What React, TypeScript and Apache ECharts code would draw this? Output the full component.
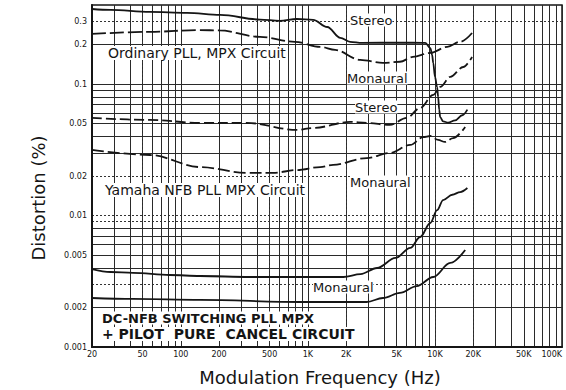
import React, { useEffect, useRef } from "react";
import * as echarts from "echarts";

// Tick labels
const xTickValues = [20, 50, 100, 200, 500, 1000, 2000, 5000, 10000, 20000, 50000, 100000];
const xTickLabels = ["20", "50", "100", "200", "500", "1K", "2K", "5K", "10K", "20K", "50K", "100K"];
const yTickValues = [0.001, 0.002, 0.005, 0.01, 0.02, 0.05, 0.1, 0.2, 0.3];
const yTickLabels = ["0.001", "0.002", "0.005", "0.01", "0.02", "0.05", "0.1", "0.2", "0.3"];

// Log-paper grid values
const xSolidGrid = [30, 40, 60, 70, 80, 90, 100, 200, 300, 400, 600, 700, 800, 900, 1000, 3000, 4000, 5000, 6000, 7000, 8000, 9000, 30000, 40000, 50000, 60000, 70000, 80000, 90000];
const xDottedGrid = [50, 500, 2000, 10000, 20000];
const ySolidGrid = [0.002, 0.004, 0.005, 0.006, 0.007, 0.008, 0.03, 0.04, 0.05, 0.06, 0.07, 0.08, 0.09, 0.1, 0.2];
const yDottedGrid = [0.003, 0.009, 0.01, 0.02, 0.3];

// Ordinary PLL, MPX circuit
const ordStereoFreq = [20, 28, 57, 112, 204, 420, 600, 820, 1100, 1420, 1800, 2150, 2670, 5300, 8400, 9200, 9500, 9700, 10000, 10400, 10600, 10800, 11000, 11600, 12700, 14400, 16400, 18000];
const ordStereoDist = [0.373, 0.367, 0.354, 0.348, 0.336, 0.31, 0.303, 0.313, 0.308, 0.272, 0.225, 0.21, 0.206, 0.207, 0.206, 0.188, 0.167, 0.145, 0.114, 0.095, 0.08, 0.064, 0.056, 0.052, 0.051, 0.053, 0.058, 0.064];
const ordMonoFreq = [20, 57, 142, 200, 420, 790, 1250, 1640, 2580, 3900, 5300, 6700, 9200, 12500, 15800, 19600];
const ordMonoDist = [0.241, 0.25, 0.258, 0.256, 0.229, 0.21, 0.192, 0.182, 0.153, 0.145, 0.148, 0.161, 0.173, 0.192, 0.21, 0.245];

// Yamaha NFB PLL MPX circuit
const yamStereoFreq = [20, 57, 142, 330, 820, 1100, 2150, 2900, 4400, 6000, 7650, 9700, 11000, 13200, 16700, 19600];
const yamStereoDist = [0.0553, 0.0534, 0.0507, 0.0507, 0.0448, 0.0464, 0.0516, 0.0507, 0.0489, 0.0553, 0.0659, 0.0828, 0.0952, 0.1135, 0.135, 0.161];
const yamMonoFreq = [20, 57, 142, 330, 530, 820, 1250, 1580, 2900, 4400, 6400, 8100, 9200, 10600, 12000, 13900, 17300];
const yamMonoDist = [0.0316, 0.0289, 0.0234, 0.0211, 0.0211, 0.0222, 0.0234, 0.0243, 0.0274, 0.0299, 0.0345, 0.0396, 0.0403, 0.0376, 0.0363, 0.0389, 0.0472];

// DC-NFB switching PLL MPX + pilot pure cancel circuit
const dcStereoFreq = [20, 28, 42, 82, 142, 350, 1900, 2600, 3500, 4900, 6400, 7650, 9200, 10400, 11600, 13700, 15800, 18000];
const dcStereoDist = [0.00392, 0.00372, 0.00366, 0.00353, 0.00347, 0.00341, 0.00341, 0.00359, 0.00399, 0.00476, 0.00567, 0.00687, 0.00878, 0.011, 0.0131, 0.0144, 0.0151, 0.0162];
const dcMonoFreq = [20, 42, 142, 870, 2900, 3900, 5300, 7200, 9700, 13200, 17300];
const dcMonoDist = [0.00236, 0.00232, 0.00228, 0.0022, 0.0022, 0.00236, 0.00258, 0.00291, 0.00341, 0.00436, 0.00547];

const X_MIN = 20;
const X_MAX = 100000;
const Y_MIN = 0.001;
const Y_MAX = 0.4;

const L = Math.log10;
const INK = "#151515";
const FONT = "DejaVu Sans";

function pairs(f: number[], d: number[]) {
  return f.map((v, i) => [L(v), L(d[i])]);
}

function lookup(values: number[], labels: string[]) {
  return (v: number) => {
    const i = values.findIndex((t) => Math.abs(L(t) - v) < 1e-6);
    return i >= 0 ? labels[i] : "";
  };
}

function lineSeries(name: string, f: number[], d: number[], type: any) {
  return {
    name,
    type: "line",
    data: pairs(f, d),
    showSymbol: false,
    symbol: "none",
    smooth: 0.35,
    smoothMonotone: "x",
    lineStyle: { color: INK, width: 1.8, type },
    z: 5,
  };
}

export default function App() {
  const ref = useRef<HTMLDivElement>(null);
  useEffect(() => {
    if (!ref.current) return;
    const chart = echarts.init(ref.current, undefined, { renderer: "svg" });
    const xBase = { type: "value", min: L(X_MIN), max: L(X_MAX) };
    const yBase = { type: "value", min: L(Y_MIN), max: L(Y_MAX) };
    chart.setOption({
      animation: false,
      backgroundColor: "#ffffff",
      grid: {
        left: 92,
        right: 4,
        top: 5,
        bottom: 43,
        show: true,
        borderColor: INK,
        borderWidth: 1.5,
        containLabel: false,
        outerBoundsMode: "none",
      },
      xAxis: [
        {
          ...xBase,
          name: "Modulation Frequency (Hz)",
          nameLocation: "middle",
          nameGap: 21,
          nameTextStyle: { fontFamily: FONT, fontSize: 18, color: INK, padding: [0, 14, 0, 0] },
          axisLine: { show: true, lineStyle: { color: INK, width: 2 } },
          axisTick: { show: false, customValues: [...xTickValues, ...xSolidGrid].map(L) },
          axisLabel: {
            customValues: xTickValues.map(L),
            formatter: lookup(xTickValues, xTickLabels),
            fontFamily: FONT,
            fontSize: 8,
            color: INK,
            margin: 3,
            alignMaxLabel: "right",
          },
          splitLine: { show: true, lineStyle: { color: "#2a2a2a", width: 1, type: "solid" } },
        },
        {
          ...xBase,
          axisLine: { show: false },
          axisTick: { show: false, customValues: xDottedGrid.map(L) },
          axisLabel: { show: false },
          splitLine: { show: true, lineStyle: { color: "#333", width: 1, type: [2, 2] } },
        },
      ],
      yAxis: [
        {
          ...yBase,
          axisLine: { show: true, lineStyle: { color: INK, width: 2 } },
          axisTick: { show: false, customValues: ySolidGrid.map(L) },
          axisLabel: {
            customValues: yTickValues.map(L),
            formatter: lookup(yTickValues, yTickLabels),
            fontFamily: FONT,
            fontSize: 8,
            color: INK,
            margin: 5,
          },
          splitLine: { show: true, lineStyle: { color: "#2a2a2a", width: 1, type: "solid" } },
        },
        {
          ...yBase,
          position: "left",
          axisLine: { show: false },
          axisTick: { show: false, customValues: yDottedGrid.map(L) },
          axisLabel: { show: false },
          splitLine: { show: true, lineStyle: { color: "#333", width: 1, type: [2, 2] } },
        },
      ],
      series: [
        lineSeries("Ordinary Stereo", ordStereoFreq, ordStereoDist, "solid"),
        lineSeries("Ordinary Monaural", ordMonoFreq, ordMonoDist, [14, 4]),
        lineSeries("Yamaha Stereo", yamStereoFreq, yamStereoDist, [10, 4]),
        lineSeries("Yamaha Monaural", yamMonoFreq, yamMonoDist, [12, 4]),
        lineSeries("DC-NFB Stereo", dcStereoFreq, dcStereoDist, "solid"),
        lineSeries("DC-NFB Monaural", dcMonoFreq, dcMonoDist, "solid"),
      ],
      graphic: [
        {
          type: "text",
          x: 38,
          y: 198,
          rotation: Math.PI / 2,
          style: { text: "Distortion (%)", font: `18px '${FONT}'`, fill: INK, align: "center", verticalAlign: "middle" },
        },
        { type: "text", x: 350, y: 20, z: 10, style: { text: "Stereo", font: `13px '${FONT}'`, fill: INK, verticalAlign: "middle", backgroundColor: "#fff" } },
        { type: "text", x: 108, y: 53, z: 10, style: { text: "Ordinary PLL, MPX Circuit", font: `14px '${FONT}'`, fill: INK, verticalAlign: "middle", backgroundColor: "#fff" } },
        { type: "text", x: 347, y: 78, z: 10, style: { text: "Monaural", font: `13px '${FONT}'`, fill: INK, verticalAlign: "middle", backgroundColor: "#fff" } },
        { type: "text", x: 355, y: 107, z: 10, style: { text: "Stereo", font: `13px '${FONT}'`, fill: INK, verticalAlign: "middle", backgroundColor: "#fff" } },
        { type: "text", x: 105, y: 190, z: 10, style: { text: "Yamaha NFB PLL MPX Circuit", font: `14px '${FONT}'`, fill: INK, verticalAlign: "middle", backgroundColor: "#fff" } },
        { type: "text", x: 350, y: 182, z: 10, style: { text: "Monaural", font: `13px '${FONT}'`, fill: INK, verticalAlign: "middle", backgroundColor: "#fff" } },
        { type: "text", x: 313, y: 287, z: 10, style: { text: "Monaural", font: `13px '${FONT}'`, fill: INK, verticalAlign: "middle", backgroundColor: "#fff" } },
        { type: "text", x: 102, y: 318, z: 10, style: { text: "DC-NFB SWITCHING PLL MPX", font: `bold 13px '${FONT}'`, fill: INK, verticalAlign: "middle", backgroundColor: "#fff" } },
        { type: "text", x: 102, y: 334, z: 10, style: { text: "+ PILOT  PURE  CANCEL CIRCUIT", font: `bold 14px '${FONT}'`, fill: INK, verticalAlign: "middle", backgroundColor: "#fff" } },
      ],
    });
    return () => chart.dispose();
  }, []);
  return <div ref={ref} style={{ width: 566, height: 390, position: "fixed", left: 0, top: 0 }} />;
}
